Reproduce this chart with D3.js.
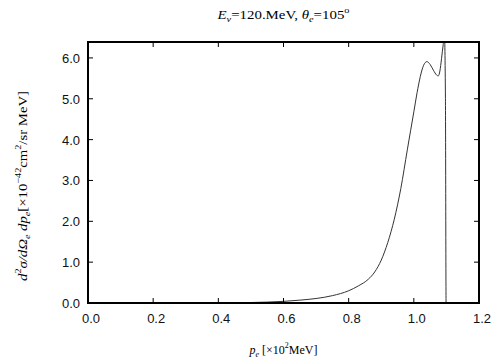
<!DOCTYPE html>
<html>
<head>
<meta charset="utf-8">
<script src="https://cdn.jsdelivr.net/npm/d3@7"></script>
<style>
  body { margin: 0; background: #fff; }
  .tick-label { font-family: "Liberation Sans", Arial, sans-serif; font-size: 13px; fill: #111; }
  .serif { font-family: "Liberation Serif", "Times New Roman", serif; font-size: 13px; fill: #000; }
</style>
</head>
<body>
<div id="chart"></div>
<script>
// momentum p_e [x10^2 MeV] and cross section [x10^-42 cm^2/sr MeV]
var pe = [0.0, 0.3, 0.4, 0.45, 0.5, 0.55, 0.6, 0.65, 0.7, 0.75, 0.8, 0.83, 0.86, 0.88, 0.9, 0.92, 0.94, 0.96, 0.98, 1.0, 1.01, 1.02, 1.03, 1.04, 1.05, 1.06, 1.07, 1.075, 1.08, 1.085, 1.09, 1.094, 1.097, 1.099, 1.1, 1.2];
var sigma = [0.0, 0.0, 0.001, 0.005, 0.012, 0.022, 0.04, 0.07, 0.11, 0.18, 0.3, 0.42, 0.58, 0.76, 1.05, 1.48, 2.05, 2.8, 3.75, 4.68, 5.15, 5.55, 5.82, 5.91, 5.84, 5.7, 5.58, 5.56, 5.68, 5.98, 6.32, 6.55, 5.0, 0.0, 0.0, 0.0];
var xTicks = [0.0, 0.2, 0.4, 0.6, 0.8, 1.0, 1.2];
var yTicks = [0.0, 1.0, 2.0, 3.0, 4.0, 5.0, 6.0];

var W = 504, H = 360;
var m = {left: 88, right: 25, top: 42, bottom: 57};

var svg = d3.select("#chart").append("svg")
    .attr("width", W)
    .attr("height", H);

var x = d3.scaleLinear().domain([0, 1.2]).range([m.left, W - m.right]);
var y = d3.scaleLinear().domain([0, 6.39]).range([H - m.bottom, m.top]);

// clip so the peak runs off the frame like the original
svg.append("clipPath").attr("id", "clip")
  .append("rect")
    .attr("x", m.left).attr("y", m.top)
    .attr("width", W - m.left - m.right)
    .attr("height", H - m.top - m.bottom);

var data = pe.map(function(d, i){ return {p: d, s: sigma[i]}; });

var line = d3.line()
    .x(function(d){ return x(d.p); })
    .y(function(d){ return y(d.s); })
    .curve(d3.curveMonotoneX);

svg.append("path")
    .datum(data)
    .attr("clip-path", "url(#clip)")
    .attr("d", line)
    .attr("fill", "none")
    .attr("stroke", "#333")
    .attr("stroke-width", 1);

// ticks on all four sides, pointing inward
var tl = 5;
var g = svg.append("g");
xTicks.forEach(function(t){
  g.append("line").attr("x1", x(t)).attr("x2", x(t))
    .attr("y1", y.range()[0]).attr("y2", y.range()[0] - tl).attr("stroke", "#000");
  g.append("line").attr("x1", x(t)).attr("x2", x(t))
    .attr("y1", y.range()[1]).attr("y2", y.range()[1] + tl).attr("stroke", "#000");
  g.append("text").attr("class", "tick-label")
    .attr("x", x(t) + 3).attr("y", y.range()[0] + 20)
    .attr("text-anchor", "middle")
    .text(d3.format(".1f")(t));
});
yTicks.forEach(function(t){
  g.append("line").attr("x1", x.range()[0]).attr("x2", x.range()[0] + tl)
    .attr("y1", y(t)).attr("y2", y(t)).attr("stroke", "#000");
  g.append("line").attr("x1", x.range()[1]).attr("x2", x.range()[1] - tl)
    .attr("y1", y(t)).attr("y2", y(t)).attr("stroke", "#000");
  g.append("text").attr("class", "tick-label")
    .attr("x", x.range()[0] - 8).attr("y", y(t) + 5)
    .attr("text-anchor", "end")
    .text(d3.format(".1f")(t));
});

// frame
svg.append("rect")
    .attr("x", m.left).attr("y", m.top)
    .attr("width", W - m.left - m.right)
    .attr("height", H - m.top - m.bottom)
    .attr("fill", "none")
    .attr("stroke", "#000")
    .attr("stroke-width", 2);

// title
var cx = (x.range()[0] + x.range()[1]) / 2;
var title = svg.append("text").attr("class", "serif")
    .attr("x", cx).attr("y", 19).attr("text-anchor", "middle")
    .attr("textLength", 132).attr("lengthAdjust", "spacingAndGlyphs");
title.append("tspan").attr("font-style", "italic").text("E");
title.append("tspan").attr("font-size", "9px").attr("dy", 3).attr("font-style", "italic").text("ν");
title.append("tspan").attr("dy", -3).text("=120.MeV,  ");
title.append("tspan").attr("font-style", "italic").text("θ");
title.append("tspan").attr("font-size", "9px").attr("dy", 3).attr("font-style", "italic").text("e");
title.append("tspan").attr("dy", -3).text("=105");
title.append("tspan").attr("font-size", "9px").attr("dy", -6).text("o");

// x label
var xl = svg.append("text").attr("class", "serif")
    .attr("x", cx).attr("y", 354).attr("text-anchor", "middle")
    .style("font-size", "12px");
xl.append("tspan").attr("font-style", "italic").text("p");
xl.append("tspan").attr("font-size", "8px").attr("dy", 3).attr("font-style", "italic").text("e");
xl.append("tspan").attr("dy", -3).text(" [×10");
xl.append("tspan").attr("font-size", "8px").attr("dy", -6).text("2");
xl.append("tspan").attr("dy", 6).text("MeV]");

// y label
var yl = svg.append("text").attr("class", "serif")
    .attr("transform", "translate(27,186) rotate(-90)")
    .attr("text-anchor", "middle")
    .attr("textLength", 190).attr("lengthAdjust", "spacingAndGlyphs");
yl.append("tspan").attr("font-style", "italic").text("d");
yl.append("tspan").attr("font-size", "9px").attr("dy", -6).text("2");
yl.append("tspan").attr("dy", 6).attr("font-style", "italic").text("σ/dΩ");
yl.append("tspan").attr("font-size", "9px").attr("dy", 3).attr("font-style", "italic").text("e");
yl.append("tspan").attr("dy", -3).attr("font-style", "italic").text(" dp");
yl.append("tspan").attr("font-size", "9px").attr("dy", 3).attr("font-style", "italic").text("e");
yl.append("tspan").attr("dy", -3).text("[×10");
yl.append("tspan").attr("font-size", "9px").attr("dy", -6).text("−42");
yl.append("tspan").attr("dy", 6).text("cm");
yl.append("tspan").attr("font-size", "9px").attr("dy", -6).text("2");
yl.append("tspan").attr("dy", 6).text("/sr MeV]");
</script>
</body>
</html>
